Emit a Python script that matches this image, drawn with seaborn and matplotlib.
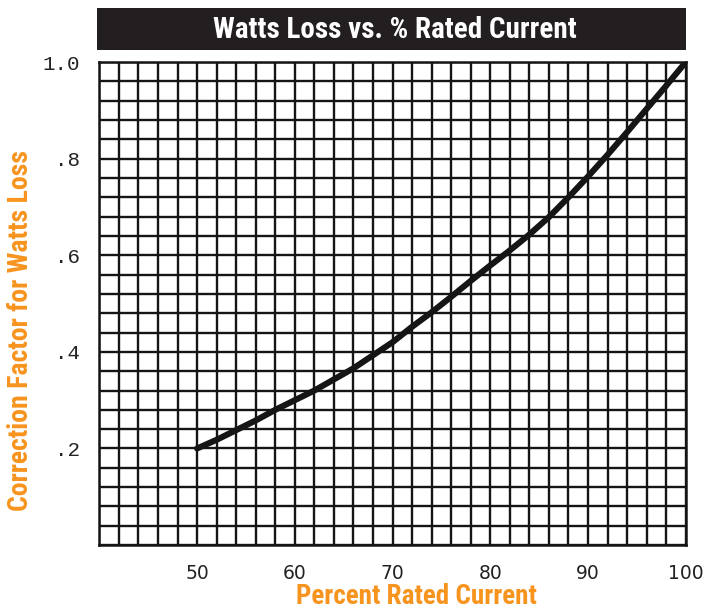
import matplotlib.pyplot as plt
import matplotlib.patches as patches
import numpy as np
import pandas as pd
import seaborn as sns

# curve
percent_current = [50, 52, 54, 56, 58, 60, 62, 64, 66, 68, 70, 72, 74, 76,
                   78, 80, 82, 84, 86, 88, 90, 92, 94, 96, 98, 100]
correction = [0.200, 0.218, 0.238, 0.258, 0.280, 0.300, 0.320, 0.343, 0.366,
              0.393, 0.420, 0.452, 0.482, 0.514, 0.547, 0.579, 0.610, 0.643,
              0.679, 0.720, 0.763, 0.808, 0.855, 0.903, 0.951, 1.000]

x_ticks = [50, 60, 70, 80, 90, 100]
y_ticks = [0.2, 0.4, 0.6, 0.8, 1.0]
y_tick_labels = [".2", ".4", ".6", ".8", "1.0"]

orange = "#F7941E"
narrow = ["Roboto Condensed", "Roboto", "DejaVu Sans"]

df = pd.DataFrame({"pct": percent_current, "cf": correction})

sns.set_style("white")
fig = plt.figure(figsize=(7.15, 6.09), dpi=100)
ax = fig.add_axes([0.139, 0.105, 0.820, 0.793])

sns.lineplot(data=df, x="pct", y="cf", color="#151515", linewidth=4.4, ax=ax,
             zorder=5)

ax.set_xlim(40, 100)
ax.set_ylim(0, 1.0)
ax.set_xticks(x_ticks)
ax.set_xticks(np.arange(40, 101, 2), minor=True)
ax.set_yticks(y_ticks)
ax.set_yticklabels(y_tick_labels)
ax.set_yticks(np.arange(0, 1.001, 0.04), minor=True)
ax.grid(which="both", color="#151515", linewidth=1.7)
ax.tick_params(which="both", length=0)
ax.tick_params(axis="x", pad=14, labelsize=13.5, labelcolor="#222222")
ax.tick_params(axis="y", pad=14, labelsize=15, labelcolor="#222222")
for lab in ax.get_yticklabels():
    lab.set_family(["Liberation Mono", "DejaVu Sans Mono"])
for s in ax.spines.values():
    s.set_color("#151515")
    s.set_linewidth(1.8)

ax.set_xlabel("Percent Rated Current", color=orange, fontsize=19.5,
              fontweight="bold", family=narrow)
ax.xaxis.set_label_coords(0.54, -0.106)
ax.xaxis.label.set_va("center")
ax.set_ylabel("Correction Factor for Watts Loss", color=orange, fontsize=20,
              fontweight="bold", family=narrow)
ax.yaxis.set_label_coords(-0.135, 0.445)
ax.yaxis.label.set_va("center")

# black title bar
bar = patches.Rectangle((0.1357, 0.918), 0.824, 0.069, transform=fig.transFigure,
                        facecolor="#231f20", edgecolor="none")
fig.patches.append(bar)
fig.text(0.552, 0.951, "Watts Loss vs. % Rated Current", color="white",
         fontsize=21, fontweight="bold", family=narrow, ha="center", va="center")

fig.savefig("out.png", dpi=100)
